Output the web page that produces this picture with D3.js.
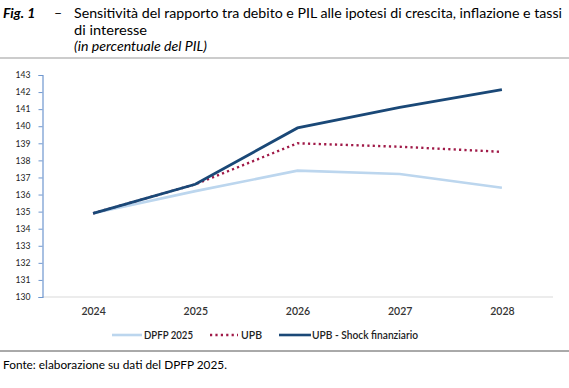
<!DOCTYPE html>
<html><head><meta charset="utf-8">
<script src="https://cdn.jsdelivr.net/npm/d3@7"></script>
<style>
body{margin:0;background:#fff;}
svg{display:block;}
text{font-family:Lato,"Open Sans",sans-serif;}
</style></head>
<body>
<script>
const years = ["2024","2025","2026","2027","2028"];
const dpfp = [134.9, 136.2, 137.4, 137.2, 136.4];
const upb = [134.9, 136.6, 139.0, 138.8, 138.5];
const upbShock = [134.9, 136.6, 139.9, 141.1, 142.15];
const yTicks = [130,131,132,133,134,135,136,137,138,139,140,141,142,143];
const seriesNames = ["DPFP 2025", "UPB", "UPB - Shock finanziario"];

const W = 569, H = 388;
const svg = d3.select("body").append("svg").attr("width", W).attr("height", H);

// Title
svg.append("text").attr("x", 3).attr("y", 18).attr("font-size", 14).attr("font-weight", "bold").attr("font-style", "italic").text("Fig. 1");
svg.append("text").attr("x", 54).attr("y", 18).attr("font-size", 14).text("–");
svg.append("text").attr("x", 74).attr("y", 18).attr("font-size", 14).attr("textLength", 488).attr("lengthAdjust", "spacingAndGlyphs")
  .text("Sensitività del rapporto tra debito e PIL alle ipotesi di crescita, inflazione e tassi");
svg.append("text").attr("x", 74).attr("y", 35).attr("font-size", 14).attr("textLength", 73).attr("lengthAdjust", "spacingAndGlyphs").text("di interesse");
svg.append("text").attr("x", 74).attr("y", 51).attr("font-size", 12.5).attr("font-style", "italic").attr("textLength", 133).attr("lengthAdjust", "spacingAndGlyphs").text("(in percentuale del PIL)");
svg.append("line").attr("x1", 0).attr("x2", W).attr("y1", 58).attr("y2", 58).attr("stroke", "#9a9a9a").attr("stroke-width", 1.2);

// Scales
const x = d3.scalePoint().domain(years).range([42, 553]).padding(0.5);
const y = d3.scaleLinear().domain([130, 143]).range([297, 75]);

// X baseline (light grey)
svg.append("line").attr("x1", 42).attr("x2", 553).attr("y1", y(130)).attr("y2", y(130)).attr("stroke", "#d9d9d9").attr("stroke-width", 1);

// Y axis
const yAxis = d3.axisLeft(y).tickValues(yTicks).tickSize(4).tickPadding(8).tickFormat(d3.format("d"));
const gy = svg.append("g").attr("transform", "translate(42.5,0)").call(yAxis);
gy.select(".domain").attr("stroke", "#6f97cf").attr("stroke-width", 1.2);
gy.selectAll(".tick line").attr("stroke", "#6f97cf");
gy.selectAll(".tick text").attr("font-family", "'DejaVu Sans', Verdana, sans-serif").attr("font-size", 8.6).attr("fill", "#222");

// X axis labels
const xAxis = d3.axisBottom(x).tickSize(0).tickPadding(11);
const gx = svg.append("g").attr("transform", `translate(0,${y(130)})`).call(xAxis);
gx.select(".domain").remove();
gx.selectAll(".tick text").attr("font-family", "Lato, sans-serif").attr("font-size", 10.5).attr("font-weight", "600").attr("fill", "#333");

// Lines
const line = d3.line().x((d, i) => x(years[i])).y(d => y(d));
svg.append("path").datum(dpfp).attr("d", line).attr("fill", "none").attr("stroke", "#bcd6ee").attr("stroke-width", 2.6);
svg.append("path").datum(upb).attr("d", line).attr("fill", "none").attr("stroke", "#a01a48").attr("stroke-width", 2.4).attr("stroke-dasharray", "2.2,3.2");
svg.append("path").datum(upbShock).attr("d", line).attr("fill", "none").attr("stroke", "#1a4877").attr("stroke-width", 2.8);

// Legend
const legend = [
  {name: seriesNames[0], x1: 112, x2: 142, tx: 144, w: 49, color: "#bcd6ee", dash: null},
  {name: seriesNames[1], x1: 210, x2: 238, tx: 241, w: 21, color: "#a01a48", dash: "2.2,3.2"},
  {name: seriesNames[2], x1: 279, x2: 311, tx: 312, w: 106, color: "#1a4877", dash: null}
];
legend.forEach(l => {
  svg.append("line").attr("x1", l.x1).attr("x2", l.x2).attr("y1", 335).attr("y2", 335)
    .attr("stroke", l.color).attr("stroke-width", 2.6).attr("stroke-dasharray", l.dash);
  svg.append("text").attr("x", l.tx).attr("y", 339).attr("font-size", 10.5).attr("font-weight", "600").attr("fill", "#222")
    .attr("textLength", l.w).attr("lengthAdjust", "spacingAndGlyphs").text(l.name);
});

// Bottom rule & source
svg.append("line").attr("x1", 0).attr("x2", W).attr("y1", 351).attr("y2", 351).attr("stroke", "#555").attr("stroke-width", 1);
svg.append("text").attr("x", 3).attr("y", 369).attr("font-size", 12).attr("fill", "#000").attr("textLength", 224).attr("lengthAdjust", "spacingAndGlyphs").text("Fonte: elaborazione su dati del DPFP 2025.");
</script>
</body></html>
